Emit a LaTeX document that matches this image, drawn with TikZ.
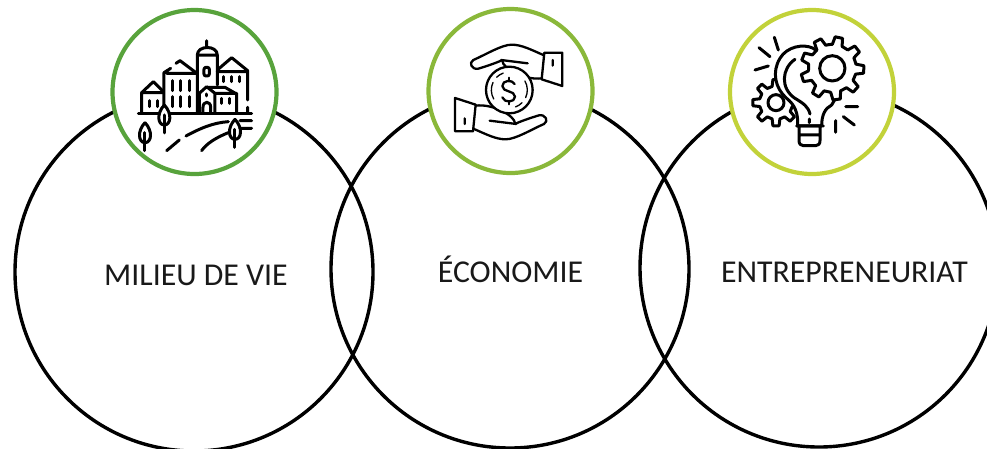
\documentclass[tikz,border=0pt]{standalone}
\usepackage{fontspec}
\setmainfont{Carlito}
\definecolor{gone}{HTML}{58A33C}
\definecolor{gtwo}{HTML}{8AB83A}
\definecolor{gthree}{HTML}{C2D23A}
\newcommand{\gearpath}[6]{% cx,cy,N,offset,root,outer
  \pgfmathsetmacro{\gA}{360/#3}
  \pgfmathtruncatemacro{\gN}{#3-1}
  \draw[icon,fill=white,shift={(#1,#2)}] (#4-0.5*\gA:#5)
    \foreach \k in {0,...,\gN}{
      -- ({#4+\k*\gA-0.30*\gA}:#5) -- ({#4+\k*\gA-0.17*\gA}:#6)
      -- ({#4+\k*\gA+0.17*\gA}:#6) -- ({#4+\k*\gA+0.30*\gA}:#5)
    } -- cycle;
}
\tikzset{
  big/.style={circle,draw=black,line width=3.4pt,minimum size=#1,inner sep=0pt,outer sep=0pt},
  badge/.style={circle,draw=#1,fill=white,line width=4.2pt,minimum size=164pt,inner sep=0pt,outer sep=0pt},
  icon/.style={draw=black,line width=3pt,line cap=round,line join=round},
  thinicon/.style={icon,line width=2.3pt},
  lbl/.style={inner sep=0pt,outer sep=0pt,anchor=base,text=black!90,font=\fontsize{31.8}{34}\selectfont},
  zoomed/.style={x=0.3333pt,y=-0.3333pt}
}
\begin{document}
\begin{tikzpicture}[x=1pt,y=-1pt]
\clip (0,0) rectangle (987,448);
\node[big=358pt] (c1) at (194,272) {};
\node[big=358pt] (c2) at (510,269) {};
\node[big=358pt] (c3) at (819,268) {};
\node[badge=gone] (b1) at (194.5,92) {};
\node[badge=gtwo] (b2) at (510.5,91) {};
\node[badge=gthree] (b3) at (812,92) {};
\node[lbl] (t1) at (196,285.7) {MILIEU DE VIE};
\node[lbl] (t2) at (510.5,282) {ÉCONOMIE};
\node[lbl] (t3) at (844.5,282) {ENTREPRENEURIAT};
% village
\begin{scope}[shift={(100,10)},zoomed]
\draw[icon] (115,310)--(455,310);
\draw[icon] (125,310)--(125,248)--(160,215)--(190,245) (125,248)--(190,248);
\draw[icon] (148,272)--(148,290) (172,272)--(172,290);
\draw[icon] (192,310)--(192,188)--(212,175) (228,160)--(240,152)--(288,188) (200,190)--(288,190);
\foreach \x in {218,243,268}{\draw[icon] (\x,212)--(\x,242) (\x,260)--(\x,290);}
\draw[icon] (292,310)--(292,135) .. controls (292,105) and (352,105) .. (352,135)--(352,225) (292,135)--(352,135) (320,92)--(320,112);
\draw[icon,rounded corners=2pt] (312,172) rectangle (328,198);
\draw[icon] (352,180)--(395,143)--(443,182)--(443,270) (352,185)--(443,185) (443,292)--(443,305);
\foreach \x in {370,395,420}{\draw[icon] (\x,200)--(\x,215);}
\draw[icon] (298,310)--(298,250)--(320,230)--(345,250)--(345,310) (320,232)--(375,232)--(410,252)--(410,310) (345,250)--(410,250);
\draw[icon] (309,310)--(309,292) .. controls (309,272) and (332,272) .. (332,292)--(332,310);
\draw[icon] (320,252)--(320,258) (365,265)--(365,280) (388,265)--(388,280);
\foreach \x/\y in {193/285,135/338,405/328}{
  \draw[icon,fill=white] (\x,\y) .. controls (\x+24,\y+25) and (\x+20,\y+60) .. (\x,\y+60) .. controls (\x-20,\y+60) and (\x-24,\y+25) .. (\x,\y);
  \draw[icon] (\x,\y+30)--(\x,\y+84);
}
\draw[icon] (200,422)--(238,390);
\draw[icon] (258,378) .. controls (300,355) and (340,338) .. (385,335) (420,332)--(455,332);
\draw[icon] (305,422) .. controls (320,400) and (350,382) .. (385,368) (420,355)--(455,355);
\end{scope}
% hands and coin
\begin{scope}[shift={(415,10)},zoomed]
\foreach \r in {0,180}{
\begin{scope}[rotate around={\r:(281,246)}]
\draw[thinicon] (388,128)--(442,128)--(442,228)--(380,208)--cycle (413,150)--(413,167);
\draw[thinicon] (385,135) .. controls (350,120) and (320,104) .. (290,104) .. controls (260,104) and (210,135) .. (175,150) .. controls (160,158) and (170,180) .. (190,176) .. controls (210,170) and (240,160) .. (258,152) (258,150)--(338,160);
\draw[thinicon] (262,152) .. controls (262,175) and (330,212) .. (380,205);
\end{scope}}
\draw[thinicon,fill=white] (283,240) circle (70);
\draw[icon,line width=1.3pt] (283,240) ++(150:54) arc (150:205:54);
\draw[icon,line width=1.3pt] (283,240) ++(225:54) arc (225:250:54);
\draw[icon,line width=1.3pt] (283,240) ++(-30:54) arc (-30:25:54);
\draw[icon,line width=1.3pt] (283,240) ++(45:54) arc (45:70:54);
\draw[thinicon] (299,222) .. controls (292,208) and (262,210) .. (262,228) .. controls (262,248) and (300,240) .. (300,260) .. controls (300,278) and (268,280) .. (262,262);
\draw[thinicon] (281,203)--(281,212) (281,274)--(281,283);
\end{scope}
% idea bulb and gears
\begin{scope}[shift={(715,10)},zoomed]
\gearpath{183}{278}{8}{0}{50}{70}
\draw[icon] (183,278) circle (24);
\draw[icon,fill=white] (295,115) .. controls (265,100) and (215,110) .. (195,145) .. controls (170,185) and (180,235) .. (215,265) .. controls (240,285) and (250,310) .. (248,348) -- (320,348) .. controls (320,315) and (330,295) .. (350,285) -- (400,200) -- cycle;
\draw[icon] (240,148) .. controls (200,175) and (195,235) .. (240,265) .. controls (265,280) and (280,290) .. (285,312) (283,327)--(283,338);
\draw[icon] (245,348)--(325,348) (252,348)--(252,392) .. controls (252,402) and (258,407) .. (265,407)--(302,407) .. controls (310,407) and (315,402) .. (315,392)--(315,348) (252,375)--(315,375);
\gearpath{352}{175}{9}{-78}{72}{95}
\draw[icon] (352,175) circle (38);
\draw[icon] (178,82)--(190,120) (132,113)--(165,140) (120,180)--(160,168) (392,290)--(428,290) (385,320)--(418,345) (362,332)--(362,367);
\end{scope}
\end{tikzpicture}
\end{document}
